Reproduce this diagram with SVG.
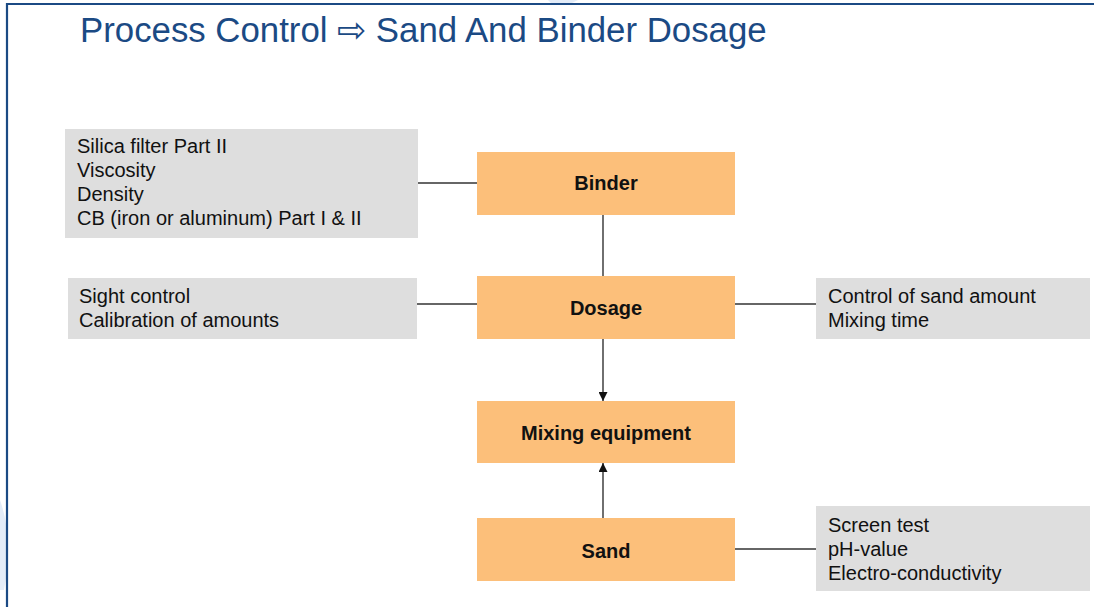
<svg xmlns="http://www.w3.org/2000/svg" width="1094" height="609" viewBox="0 0 1094 609">
  <style>
    .title { font-family: "Liberation Sans", Arial, sans-serif; font-size: 34.8px; fill: #1B4A84; }
    .note { fill: #DEDEDE; }
    .note-text { font-family: "Liberation Sans", Arial, sans-serif; font-size: 20px; fill: #111; }
    .node { fill: #FCBF7A; }
    .node-text { font-family: "Liberation Sans", Arial, sans-serif; font-size: 20px; font-weight: bold; fill: #111; text-anchor: middle; }
    .link { stroke: #333; stroke-width: 1.4; fill: none; }
  </style>
  <defs>
    <marker id="arrow" viewBox="0 0 10 10" refX="10" refY="5" markerWidth="9" markerHeight="9" markerUnits="userSpaceOnUse" orient="auto">
      <path d="M0,0 L10,5 L0,10 z" fill="#111"/>
    </marker>
  </defs>

  <rect width="1094" height="609" fill="#fff"/>

  <!-- faint background ornaments -->
  <path d="M0,500 Q14,540 4,590 L0,590 Z" fill="#E3ECF8"/>
  <path d="M548,0 L578,0 L570,4 L552,4 Z" fill="#E3ECF8"/>

  <!-- frame -->
  <g id="frame" stroke="#1B4A84" stroke-width="2.2" fill="none">
    <line x1="6" y1="4" x2="1094" y2="4"/>
    <line x1="7" y1="3" x2="7" y2="607"/>
  </g>

  <text class="title" x="80" y="42">Process Control ⇨ Sand And Binder Dosage</text>

  <!-- connectors -->
  <g id="connectors">
    <line class="link" x1="418" y1="183" x2="477" y2="183"/>
    <line class="link" x1="603" y1="215" x2="603" y2="276"/>
    <line class="link" x1="417" y1="304" x2="477" y2="304"/>
    <line class="link" x1="735" y1="304" x2="816" y2="304"/>
    <line class="link" x1="603" y1="339" x2="603" y2="401" marker-end="url(#arrow)"/>
    <line class="link" x1="603" y1="518" x2="603" y2="463" marker-end="url(#arrow)"/>
    <line class="link" x1="735" y1="549" x2="816" y2="549"/>
  </g>

  <!-- notes -->
  <g id="note-binder">
    <rect class="note" x="65" y="129" width="353" height="109"/>
    <text class="note-text" x="77" y="153">Silica filter Part II</text>
    <text class="note-text" x="77" y="177">Viscosity</text>
    <text class="note-text" x="77" y="201">Density</text>
    <text class="note-text" x="77" y="225">CB (iron or aluminum) Part I &amp; II</text>
  </g>
  <g id="note-dosage-left">
    <rect class="note" x="68" y="278" width="349" height="61"/>
    <text class="note-text" x="79" y="303">Sight control</text>
    <text class="note-text" x="79" y="327">Calibration of amounts</text>
  </g>
  <g id="note-dosage-right">
    <rect class="note" x="816" y="278" width="274" height="61"/>
    <text class="note-text" x="828" y="303">Control of sand amount</text>
    <text class="note-text" x="828" y="327">Mixing time</text>
  </g>
  <g id="note-sand">
    <rect class="note" x="816" y="506" width="274" height="85"/>
    <text class="note-text" x="828" y="532">Screen test</text>
    <text class="note-text" x="828" y="556">pH-value</text>
    <text class="note-text" x="828" y="580">Electro-conductivity</text>
  </g>

  <!-- process nodes -->
  <g id="binder">
    <rect class="node" x="477" y="152" width="258" height="63"/>
    <text class="node-text" x="606" y="190">Binder</text>
  </g>
  <g id="dosage">
    <rect class="node" x="477" y="276" width="258" height="63"/>
    <text class="node-text" x="606" y="315">Dosage</text>
  </g>
  <g id="mixing-equipment">
    <rect class="node" x="477" y="401" width="258" height="62"/>
    <text class="node-text" x="606" y="440">Mixing equipment</text>
  </g>
  <g id="sand">
    <rect class="node" x="477" y="518" width="258" height="63"/>
    <text class="node-text" x="606" y="558">Sand</text>
  </g>
</svg>
